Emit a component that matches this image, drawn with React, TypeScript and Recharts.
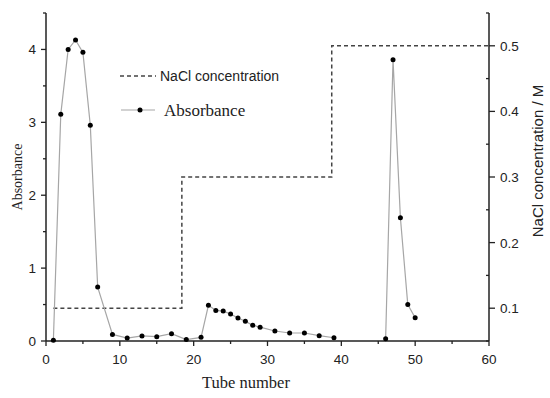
import { LineChart, Line, XAxis, YAxis } from "recharts";

const tubes = [1, 2, 3, 4, 5, 6, 7, 9, 11, 13, 15, 17, 19, 21, 22, 23, 24, 25, 26, 27, 28, 29, 31, 33, 35, 37, 39, 46, 47, 48, 49, 50];
const absorbance = [0.01, 3.11, 4.0, 4.13, 3.96, 2.96, 0.74, 0.09, 0.04, 0.07, 0.06, 0.1, 0.02, 0.05, 0.49, 0.42, 0.41, 0.37, 0.315, 0.27, 0.215, 0.19, 0.137, 0.11, 0.11, 0.073, 0.045, 0.03, 3.86, 1.69, 0.5, 0.32];
// no tubes were measured between these, so the trace breaks here
const gapAfterTube = 39;

const naclTubes = [1, 18.4, 38.7, 60];
const naclValues = [0.1, 0.3, 0.5, 0.5];

const xTicks = [0, 5, 10, 15, 20, 25, 30, 35, 40, 45, 50, 55, 60];
const leftTicks = [0, 0.5, 1, 1.5, 2, 2.5, 3, 3.5, 4, 4.5];
const rightTicks = [0.05, 0.1, 0.15, 0.2, 0.25, 0.3, 0.35, 0.4, 0.45, 0.5, 0.55];

const absRows = tubes.map((t, i) => ({ tube: t, abs: absorbance[i] }));
const naclRows = naclTubes.map((t, i) => ({ tube: t, nacl: naclValues[i] }));

const sans = "'Liberation Sans', Arial, sans-serif";
const serif = "'Liberation Serif', 'Times New Roman', serif";
const axisColor = "#222";

const XTick = ({ x, y, payload }: any) => {
  const major = payload.value % 10 === 0;
  return (
    <g>
      <line x1={x} x2={x} y1={y} y2={y + (major ? 5 : 3)} stroke={axisColor} strokeWidth={1.3} />
      {major && (
        <text x={x} y={y + 23} textAnchor="middle" fontFamily={sans} fontSize={13.5} fill="#222">
          {payload.value}
        </text>
      )}
    </g>
  );
};

const LeftTick = ({ x, y, payload }: any) => {
  const major = Number.isInteger(payload.value);
  return (
    <g>
      <line x1={x - (major ? 5 : 3)} x2={x} y1={y} y2={y} stroke={axisColor} strokeWidth={1.3} />
      {major && (
        <text x={x - 10} y={y + 5} textAnchor="end" fontFamily={sans} fontSize={13.5} fill="#222">
          {payload.value}
        </text>
      )}
    </g>
  );
};

const RightTick = ({ x, y, payload }: any) => {
  const v = payload.value * 10;
  const major = Math.abs(v - Math.round(v)) < 1e-6;
  return (
    <g>
      {major ? (
        <line x1={x} x2={x + 6} y1={y} y2={y} stroke={axisColor} strokeWidth={1.3} />
      ) : (
        <line x1={x - 3} x2={x} y1={y} y2={y} stroke={axisColor} strokeWidth={1.3} />
      )}
      {major && (
        <text x={x + 11} y={y + 5} textAnchor="start" fontFamily={sans} fontSize={13.5} fill="#222">
          {payload.value}
        </text>
      )}
    </g>
  );
};

export default function App() {
  return (
    <div style={{ position: "absolute", left: 0, top: 0, width: 550, height: 398, background: "#fff" }}>
      <LineChart width={550} height={398} margin={{ top: 13, right: 0, bottom: 0, left: 0 }}>
        <XAxis
          dataKey="tube"
          type="number"
          domain={[0, 60]}
          ticks={xTicks}
          interval={0}
          tickSize={0}
          tickMargin={0}
          tick={<XTick />}
          height={57}
          stroke={axisColor}
          strokeWidth={1.5}
          allowDuplicatedCategory={false}
          label={{
            content: () => (
              <text x={246} y={388} textAnchor="middle" fontFamily={serif} fontSize={16.5} fill="#222">
                Tube number
              </text>
            ),
          }}
        />
        <YAxis
          yAxisId="left"
          domain={[0, 4.5]}
          ticks={leftTicks}
          interval={0}
          tickSize={0}
          tickMargin={0}
          tick={<LeftTick />}
          width={46}
          stroke={axisColor}
          strokeWidth={1.5}
          label={{
            content: () => (
              <text
                x={22}
                y={177}
                transform="rotate(-90 22 177)"
                textAnchor="middle"
                fontFamily={serif}
                fontSize={14}
                fill="#222"
              >
                Absorbance
              </text>
            ),
          }}
        />
        <YAxis
          yAxisId="right"
          orientation="right"
          domain={[0.05, 0.55]}
          ticks={rightTicks}
          interval={0}
          tickSize={0}
          tickMargin={0}
          tick={<RightTick />}
          width={61}
          stroke={axisColor}
          strokeWidth={1.5}
          label={{
            content: () => (
              <text
                x={543}
                y={161}
                transform="rotate(-90 543 161)"
                textAnchor="middle"
                fontFamily={sans}
                fontSize={15}
                fill="#222"
              >
                NaCl concentration / M
              </text>
            ),
          }}
        />
        <Line
          yAxisId="right"
          data={naclRows}
          dataKey="nacl"
          type="stepAfter"
          stroke="#444"
          strokeWidth={1.5}
          strokeDasharray="4 3"
          dot={false}
          isAnimationActive={false}
        />
        <Line
          yAxisId="left"
          data={absRows.filter((r) => r.tube <= gapAfterTube)}
          dataKey="abs"
          type="linear"
          stroke="#a6a6a6"
          strokeWidth={1.2}
          dot={{ r: 2.5, fill: "#000", stroke: "#000", strokeWidth: 0 }}
          isAnimationActive={false}
        />
        <Line
          yAxisId="left"
          data={absRows.filter((r) => r.tube > gapAfterTube)}
          dataKey="abs"
          type="linear"
          stroke="#a6a6a6"
          strokeWidth={1.2}
          dot={{ r: 2.5, fill: "#000", stroke: "#000", strokeWidth: 0 }}
          isAnimationActive={false}
        />
      </LineChart>

      {/* legend */}
      <div style={{ position: "absolute", left: 118, top: 64, lineHeight: 1 }}>
        <div style={{ display: "flex", alignItems: "center", height: 24 }}>
          <svg width={42} height={10}>
            <line x1={2} x2={38} y1={5} y2={5} stroke="#444" strokeWidth={1.3} strokeDasharray="4 3" />
          </svg>
          <span style={{ fontFamily: sans, fontSize: 14, color: "#222" }}>NaCl concentration</span>
        </div>
        <div style={{ display: "flex", alignItems: "center", height: 24, marginTop: 10 }}>
          <svg width={46} height={10}>
            <line x1={3} x2={37} y1={5} y2={5} stroke="#a6a6a6" strokeWidth={1.2} />
            <circle cx={22} cy={5} r={2.5} fill="#000" />
          </svg>
          <span style={{ fontFamily: serif, fontSize: 17, color: "#222" }}>Absorbance</span>
        </div>
      </div>
    </div>
  );
}
